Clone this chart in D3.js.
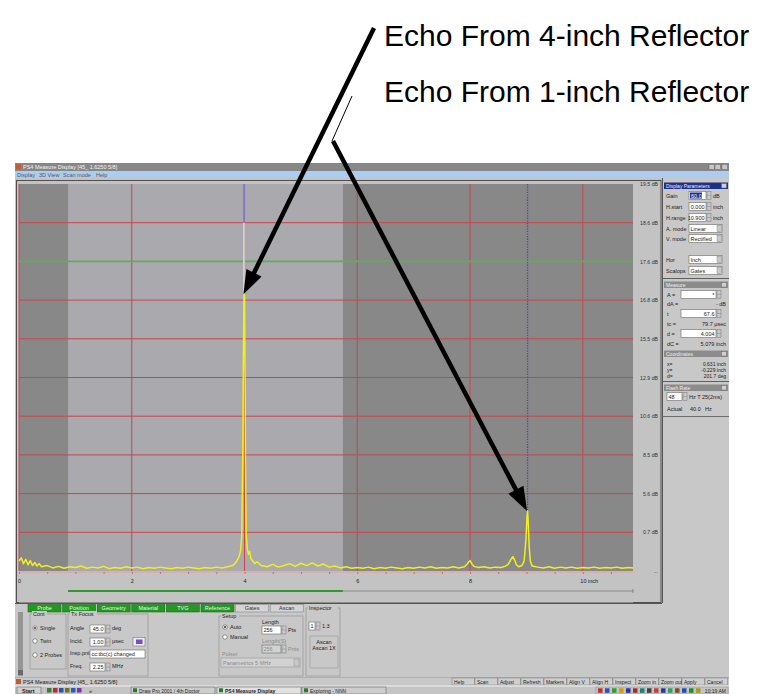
<!DOCTYPE html>
<html>
<head>
<meta charset="utf-8">
<style>
  body { margin: 0; background: #fff; }
  svg { display: block; font-family: "Liberation Sans", Arial, sans-serif; }
</style>
</head>
<body>
<div id="chart"></div>
<script src="https://cdn.jsdelivr.net/npm/d3@7/dist/d3.min.js"></script>
<script>

// =====================================
// DATA
// =====================================

const xTicks = [0, 2, 4, 6, 8, 10];
const xTickLabels = ["0", "2", "4", "6", "8", "10 inch"];

const ampTicks = [100, 90, 80, 70, 60, 50, 40, 30, 20, 10, 0];
const dbLabels = ["19.5 dB", "18.6 dB", "17.6 dB", "16.8 dB", "15.5 dB", "12.9 dB",
                  "10.6 dB", "8.5 dB", "5.6 dB", "0.7 dB", "..."];

const gridAmp = [10, 20, 30, 40, 50, 60, 70, 90];
const thresholdAmp = 80;

const xMax = 10.89;
const gateRange = [0.87, 5.745];

// [inch, amplitude %]
const trace = [
  [0.00,2.6],[0.04,3.4],[0.08,1.9],[0.12,3.0],[0.16,1.6],[0.20,2.7],[0.24,1.4],[0.28,2.2],
  [0.32,1.3],[0.36,1.9],[0.40,1.1],[0.5,1.4],[0.6,0.8],[0.7,1.2],[0.8,0.7],[0.9,1.1],
  [1.0,0.9],[1.1,1.3],[1.2,0.7],[1.3,1.0],[1.4,0.8],[1.5,1.2],[1.6,0.6],[1.7,0.9],
  [1.8,0.7],[1.9,1.1],[2.0,0.8],[2.1,1.0],[2.2,0.6],[2.3,0.9],[2.4,0.7],[2.5,1.0],
  [2.6,0.8],[2.7,0.6],[2.8,0.9],[2.9,0.7],[3.0,1.0],[3.1,0.8],[3.2,0.6],[3.3,0.9],
  [3.4,0.7],[3.5,1.0],[3.6,0.8],[3.7,1.1],[3.8,1.5],[3.85,2.3],[3.9,3.6],[3.93,5.2],
  [3.95,9.0],[3.97,31],[3.98,56],[3.99,72],[4.00,71],[4.01,49],[4.02,21],[4.03,9.5],
  [4.05,5.6],[4.07,4.3],[4.09,5.1],[4.11,3.3],[4.14,2.7],[4.18,1.9],[4.22,2.4],[4.30,1.4],
  [4.40,1.1],[4.50,1.7],[4.60,1.0],[4.70,1.4],[4.80,1.9],[4.90,1.2],[5.00,2.0],[5.10,1.4],
  [5.20,2.1],[5.30,1.3],[5.40,1.8],[5.50,1.0],[5.60,1.3],[5.70,0.8],[5.80,1.1],[5.90,0.7],
  [6.0,0.9],[6.1,0.7],[6.2,1.0],[6.3,0.6],[6.4,0.9],[6.5,0.7],[6.6,1.0],[6.7,0.8],
  [6.8,0.6],[6.9,0.9],[7.0,0.7],[7.1,1.0],[7.2,0.8],[7.3,1.1],[7.4,0.7],[7.5,0.9],
  [7.6,0.8],[7.7,1.1],[7.8,0.8],[7.9,1.1],[7.95,1.8],[7.98,2.4],[8.00,2.7],[8.03,1.9],
  [8.07,1.2],[8.15,0.9],[8.25,1.1],[8.35,0.8],[8.45,1.0],[8.55,0.9],[8.62,1.2],[8.68,1.8],
  [8.72,2.9],[8.76,3.7],[8.79,2.9],[8.82,1.7],[8.86,1.1],[8.92,1.4],[8.96,2.6],[8.99,8.0],
  [9.01,14],[9.02,15.5],[9.03,13],[9.05,6.0],[9.07,2.5],[9.10,1.3],[9.2,1.0],[9.3,0.8],
  [9.4,1.1],[9.5,0.7],[9.6,1.0],[9.7,0.8],[9.8,1.0],[9.9,0.7],[10.0,0.9],[10.1,0.8],
  [10.2,1.0],[10.3,0.7],[10.4,0.9],[10.5,0.8],[10.6,1.0],[10.7,0.7],[10.8,0.9],[10.89,0.8]
];

const echoLabels = ["Echo From 4-inch Reflector", "Echo From 1-inch Reflector"];
const echoInch = [3.99, 9.02];
const echoAmp = [72, 15.5];

const tabNames = ["Probe", "Position", "Geometry", "Material", "TVG", "Reference", "Gates", "Ascan"];
const buttonNames = ["Help", "Scan", "Adjust", "Refresh", "Markers", "Align V", "Align H",
                     "Inspect", "Zoom in", "Zoom out", "Apply", "Cancel"];

// =====================================
// DIMENSIONS
// =====================================

const width = 774;
const height = 694;

const plot = { left: 19, right: 633, top: 184, bottom: 571 };

const svg = d3.select("#chart")
  .append("svg")
  .attr("width", width)
  .attr("height", height);

svg.append("rect").attr("width", width).attr("height", height).attr("fill", "#fff");

// =====================================
// SCALES
// =====================================

const x = d3.scaleLinear().domain([0, xMax]).range([plot.left, plot.right]);
const y = d3.scaleLinear().domain([0, 100]).range([plot.bottom, plot.top]);

// =====================================
// SMALL UI HELPERS
// =====================================

const ui = svg.append("g");

function rect(g, rx, ry, w, h, fill, stroke, sw) {
  return g.append("rect").attr("x", rx).attr("y", ry).attr("width", w).attr("height", h)
    .attr("fill", fill || "none").attr("stroke", stroke || "none").attr("stroke-width", sw || 0.6);
}

function txt(g, tx, ty, s, o) {
  o = o || {};
  return g.append("text").attr("x", tx).attr("y", ty).text(s)
    .attr("font-size", o.size || 5.5)
    .attr("font-weight", o.bold ? "700" : "400")
    .attr("text-anchor", o.anchor || "start")
    .attr("fill", o.fill || "#222");
}

function hline(g, x1, x2, yy, c, sw) {
  g.append("line").attr("x1", x1).attr("x2", x2).attr("y1", yy).attr("y2", yy)
    .attr("stroke", c).attr("stroke-width", sw || 0.8);
}

function vline(g, xx, y1, y2, c, sw) {
  g.append("line").attr("x1", xx).attr("x2", xx).attr("y1", y1).attr("y2", y2)
    .attr("stroke", c).attr("stroke-width", sw || 0.8);
}

function spin(g, sx, sy, h) {
  rect(g, sx, sy, 4, h, "#c8c8c8", "#777", 0.5);
  hline(g, sx, sx + 4, sy + h / 2, "#777", 0.4);
}

function field(g, fx, fy, w, val, o) {
  o = o || {};
  rect(g, fx, fy, w, 8, o.fill || "#fff", "#6a6a6a", 0.6);
  if (val) txt(g, o.left ? fx + 1.5 : fx + w - 1.5, fy + 6, val, { anchor: o.left ? "start" : "end", fill: o.color });
}

function drop(g, fx, fy, w, val) {
  rect(g, fx, fy, w, 8, "#fff", "#6a6a6a", 0.6);
  txt(g, fx + 1.5, fy + 6, val);
  rect(g, fx + w - 5, fy + 0.8, 4.2, 6.4, "#c8c8c8", "#777", 0.4);
}

function radio(g, cx, cy, on) {
  g.append("circle").attr("cx", cx).attr("cy", cy).attr("r", 2.2)
    .attr("fill", "#fff").attr("stroke", "#555").attr("stroke-width", 0.6);
  if (on) g.append("circle").attr("cx", cx).attr("cy", cy).attr("r", 0.9).attr("fill", "#111");
}

function header(g, hy, s, fill) {
  rect(g, 664, hy, 64, 6.5, fill);
  txt(g, 666, hy + 5, s, { size: 5, fill: "#eee" });
  rect(g, 721.5, hy + 1, 5, 4.5, "#d0d0d0", "#555", 0.4);
}

function group(g, gx, gy, w, h, label) {
  rect(g, gx, gy, w, h, "none", "#8c8c8c", 0.6);
  rect(g, gx + 2, gy - 3, label.length * 3 + 3, 5, "#c8c8c8");
  txt(g, gx + 3, gy + 1.5, label);
}

// =====================================
// WINDOW FRAME
// =====================================

rect(ui, 15, 163, 714, 531, "#c8c8c8");

// title bar
rect(ui, 15, 163, 714, 8, "#878787");
rect(ui, 16, 164.3, 5, 5, "#c65a2a");
txt(ui, 23, 169.4, "PS4 Measure Display [45_ 1.6250 5/8]", { fill: "#f4f4f4" });
[709, 715, 722].forEach(bx => rect(ui, bx, 164.3, 5.5, 5.2, "#c8c8c8", "#555", 0.4));

// menu bar
rect(ui, 15, 171, 714, 7, "#abcdf0");
[["Display", 17], ["3D View", 39], ["Scan mode", 63], ["Help", 96]]
  .forEach(m => txt(ui, m[1], 176.6, m[0], { fill: "#556" }));

// chart panel
rect(ui, 15, 178, 647, 425, "#c3c3c3");
rect(ui, 16.5, 180.5, 644.5, 422, "none", "#505050", 1);

// =====================================
// PLOT BACKGROUND
// =====================================

const chart = svg.append("g");

rect(chart, x(0), y(100), x(xMax) - x(0), y(0) - y(100), "#888888");
rect(chart, x(gateRange[0]), y(100), x(gateRange[1]) - x(gateRange[0]), y(0) - y(100), "#a9a9ae");

// =====================================
// GRID
// =====================================

chart.selectAll(".vgrid")
  .data(xTicks)
  .enter()
  .append("line")
  .attr("x1", d => x(d)).attr("x2", d => x(d))
  .attr("y1", y(100)).attr("y2", y(0))
  .attr("stroke", "#c8464a").attr("stroke-width", 1);

chart.selectAll(".hgrid")
  .data(gridAmp)
  .enter()
  .append("line")
  .attr("x1", x(0)).attr("x2", x(xMax))
  .attr("y1", d => y(d)).attr("y2", d => y(d))
  .attr("stroke", "#c8464a").attr("stroke-width", 1);

chart.append("line")
  .attr("x1", x(0)).attr("x2", x(xMax))
  .attr("y1", y(thresholdAmp)).attr("y2", y(thresholdAmp))
  .attr("stroke", "#5cae5c").attr("stroke-width", 1.6);

// =====================================
// CURSORS
// =====================================

chart.append("line")
  .attr("x1", x(echoInch[0])).attr("x2", x(echoInch[0]))
  .attr("y1", y(100)).attr("y2", y(90))
  .attr("stroke", "#7f7ad8").attr("stroke-width", 1.8);

chart.append("line")
  .attr("x1", x(echoInch[0])).attr("x2", x(echoInch[0]))
  .attr("y1", y(90)).attr("y2", y(echoAmp[0]))
  .attr("stroke", "#d6d6d0").attr("stroke-width", 1.8);

chart.append("line")
  .attr("x1", x(echoInch[1])).attr("x2", x(echoInch[1]))
  .attr("y1", y(100)).attr("y2", y(echoAmp[1]))
  .attr("stroke", "#4a4aa8").attr("stroke-width", 1.3)
  .attr("stroke-dasharray", "1.3,1.3");

// =====================================
// TRACE
// =====================================

const line = d3.line()
  .x(d => x(d[0]))
  .y(d => y(d[1]));

chart.append("path")
  .datum(trace)
  .attr("d", line)
  .attr("fill", "none")
  .attr("stroke", "#f0f01e")
  .attr("stroke-width", 1.5)
  .attr("stroke-linejoin", "round");

// =====================================
// AXES
// =====================================

rect(chart, x(0), y(0) + 0.5, x(xMax) - x(0), 31, "#c3c3c3");
hline(chart, x(0), x(xMax), y(0) + 1, "#e0a0a0", 1);

const minorAxis = chart.append("g")
  .attr("transform", `translate(0,${y(0) + 1})`)
  .call(d3.axisBottom(x).tickValues(d3.range(0, xMax, 0.5)).tickSize(2).tickFormat(""));
minorAxis.select(".domain").remove();
minorAxis.selectAll("line").attr("stroke", "#d06a6a");

const xAxis = chart.append("g")
  .attr("transform", `translate(0,${y(0)})`)
  .call(d3.axisBottom(x).tickValues(xTicks).tickSize(0).tickPadding(8)
    .tickFormat((d, i) => xTickLabels[i]));
xAxis.select(".domain").remove();
xAxis.selectAll("text")
  .attr("font-size", 5.5)
  .attr("font-family", "Liberation Sans, Arial, sans-serif")
  .attr("fill", "#222");
xAxis.selectAll("text").filter((d, i) => i === xTicks.length - 1)
  .attr("text-anchor", "start").attr("dx", -3);

const dbAxis = chart.append("g")
  .attr("transform", "translate(658,0)")
  .call(d3.axisLeft(y).tickValues(ampTicks).tickSize(0).tickPadding(0)
    .tickFormat((d, i) => dbLabels[i]));
dbAxis.select(".domain").remove();
dbAxis.selectAll("text")
  .attr("font-size", 5.2)
  .attr("font-family", "Liberation Sans, Arial, sans-serif")
  .attr("fill", "#333");

// gate bar under the axis
chart.append("line")
  .attr("x1", x(gateRange[0])).attr("x2", x(gateRange[1]))
  .attr("y1", 591).attr("y2", 591)
  .attr("stroke", "#2e9a2e").attr("stroke-width", 2);
chart.append("line")
  .attr("x1", x(gateRange[1])).attr("x2", x(xMax))
  .attr("y1", 591).attr("y2", 591)
  .attr("stroke", "#8c8c8c").attr("stroke-width", 1);
vline(chart, x(xMax), 589, 593, "#777", 0.8);

// =====================================
// RIGHT PANEL
// =====================================

rect(ui, 662, 178, 67, 500, "#c8c8c8");
vline(ui, 662.5, 178, 603, "#555", 1);

header(ui, 182.5, "Display Parameters", "#1d2f8c");
[["Gain", "60.0", "dB", 196], ["H.start", "0.000", "inch", 207], ["H.range", "10.900", "inch", 218]]
  .forEach((r, i) => {
    txt(ui, 666, r[3] + 1.5, r[0]);
    field(ui, 689, r[3] - 4.5, 17, i === 0 ? "" : r[1]);
    if (i === 0) {
      rect(ui, 690, r[3] - 3.5, 12, 6, "#1d2f8c");
      txt(ui, 691, r[3] + 1.5, r[1], { fill: "#fff" });
    }
    spin(ui, 707, r[3] - 4.5, 8);
    txt(ui, 713, r[3] + 1.5, r[2]);
  });
[["A. mode", "Linear", 229], ["V. mode", "Rectified", 239], ["Hor", "Inch", 260], ["Scalops", "Gates", 271]]
  .forEach(r => {
    txt(ui, 666, r[2] + 1.5, r[0]);
    drop(ui, 689, r[2] - 4.5, 33, r[1]);
  });
hline(ui, 663, 729, 278.5, "#444", 0.8);

header(ui, 281.5, "Measure", "#8c8c8c");
[["A =", "*", 295], ["t", "67.6", 314], ["d =", "4.004", 334]].forEach(r => {
  txt(ui, 667, r[2] + 1.5, r[0]);
  field(ui, 681, r[2] - 4.5, 35, r[1]);
  spin(ui, 717, r[2] - 4.5, 8);
});
[["dA =", "- dB", 304], ["tc =", "79.7 µsec", 324], ["dC =", "5.079 inch", 344]].forEach(r => {
  txt(ui, 667, r[2] + 1.5, r[0]);
  txt(ui, 726, r[2] + 1.5, r[1], { anchor: "end" });
});

header(ui, 350.5, "Coordinates", "#8c8c8c");
[["x=", "0.631 inch", 364], ["y=", "-0.229 inch", 370], ["d=", "201.7 deg", 376]].forEach(r => {
  txt(ui, 667, r[2] + 1.5, r[0], { size: 5 });
  txt(ui, 726, r[2] + 1.5, r[1], { anchor: "end", size: 5 });
});
hline(ui, 663, 729, 381.5, "#444", 0.8);

header(ui, 384.5, "Flash Rate", "#8c8c8c");
field(ui, 667, 392.5, 15, "48", { left: true });
spin(ui, 683, 392.5, 8);
txt(ui, 689, 398.5, "Hz T 25(2ms)");
txt(ui, 667, 411, "Actual");
txt(ui, 690, 411, "40.0");
txt(ui, 705, 411, "Hz");
hline(ui, 663, 729, 416.5, "#555", 0.8);

// =====================================
// BOTTOM PANEL
// =====================================

hline(ui, 15, 662, 603.5, "#555", 1);

tabNames.forEach((n, i) => {
  const tx = 28 + i * 34.6;
  const green = i < 6;
  rect(ui, tx, 604.5, 33, 7.5, green ? "#229a22" : "#d4d4d4", green ? "#0e5e0e" : "#777", 0.5);
  txt(ui, tx + 16.5, 610.3, n, { anchor: "middle", fill: green ? "#e8f8e8" : "#333" });
});

rect(ui, 18, 612, 5, 64, "#959595");
rect(ui, 18, 670, 5, 5, "#6a6a6a");

group(ui, 30, 614, 36, 55, "Cont");
[["Single", 628, true], ["Twin", 641, false], ["2 Probes", 655, false]].forEach(r => {
  radio(ui, 35, r[1], r[2]);
  txt(ui, 40, r[1] + 2, r[0]);
});

group(ui, 68, 614, 80, 62, "Tx Focus");
txt(ui, 70, 630, "Angle");
field(ui, 90, 625, 15, "45.0");
spin(ui, 106, 625, 8);
txt(ui, 112, 630, "deg");
txt(ui, 70, 643, "Incid.");
field(ui, 90, 638, 15, "1.00");
spin(ui, 106, 638, 8);
txt(ui, 112, 643, "µsec");
rect(ui, 133, 637.5, 12, 8.5, "#ececf4", "#666", 0.5);
rect(ui, 136, 639.5, 6.5, 4.5, "#7a4cc4");
txt(ui, 70, 655, "Insp.pnt.");
field(ui, 90, 650, 55, "cc:tbc(c) changed", { left: true });
txt(ui, 70, 668, "Freq.");
field(ui, 90, 663, 15, "2.25");
spin(ui, 106, 663, 8);
txt(ui, 112, 668, "MHz");

group(ui, 219, 616, 84, 60, "Setup");
radio(ui, 225, 627, true);
txt(ui, 230, 629, "Auto");
radio(ui, 225, 637, false);
txt(ui, 230, 639, "Manual");
txt(ui, 262, 624, "Length");
field(ui, 262, 626, 19, "256", { left: true });
spin(ui, 282, 626, 8);
txt(ui, 288, 632, "Pts");
txt(ui, 262, 643, "Length(S)", { fill: "#8a8a8a" });
field(ui, 262, 645, 19, "256", { left: true, fill: "#d2d2d2", color: "#8a8a8a" });
spin(ui, 282, 645, 8);
txt(ui, 288, 651, "Pnts", { fill: "#8a8a8a" });
txt(ui, 222, 656, "Pulser", { fill: "#8a8a8a" });
rect(ui, 221, 658, 79, 9, "#d2d2d2", "#8a8a8a", 0.5);
txt(ui, 223, 664.5, "Panametrics 5 MHz", { fill: "#8a8a8a" });
rect(ui, 294, 659, 5, 7, "#c8c8c8", "#888", 0.4);

group(ui, 306, 608, 34, 68, "Inspector");
field(ui, 309, 622, 6, "1", { left: true });
spin(ui, 316, 622, 8);
txt(ui, 322, 628, "1.3");
rect(ui, 310, 636, 28, 32, "none", "#8c8c8c", 0.5);
txt(ui, 324, 644, "Ascan", { anchor: "middle" });
txt(ui, 324, 650, "Ascan 1X", { anchor: "middle" });

// =====================================
// STATUS BAR + TASKBAR
// =====================================

hline(ui, 15, 729, 677.5, "#9a9a9a", 0.6);
rect(ui, 16, 679, 5, 5, "#c65a2a");
txt(ui, 23, 683.8, "PS4 Measure Display [45_ 1.6250 5/8]");

buttonNames.forEach((n, i) => {
  const bx = 452 + i * 23;
  rect(ui, bx, 678, 22.5, 7, "#cfcfcf", "#777", 0.5);
  txt(ui, bx + 2, 683.5, n, { size: 5 });
});

rect(ui, 15, 685.5, 714, 8.5, "#c4c4c4");
hline(ui, 15, 729, 686, "#fff", 0.8);
rect(ui, 17, 687, 24, 7, "#d0d0d0", "#555", 0.5);
txt(ui, 22, 692.8, "Start", { bold: true, size: 5.5 });
["#3a7a3a", "#b03030", "#3050b0", "#707020", "#2060c0", "#8030a0"]
  .forEach((c, i) => rect(ui, 47 + i * 6, 688, 4.5, 4.5, c));
txt(ui, 89, 692.6, "»");
[["Draw Pro 2001 / 4th Doctor", 131, false], ["PS4 Measure Display", 217, true], ["Exploring - NNN", 302, false]]
  .forEach(b => {
    rect(ui, b[1], 687, 84, 7, b[2] ? "#e2e2e2" : "#cdcdcd", "#555", 0.5);
    rect(ui, b[1] + 2, 688.3, 4, 4, "#2a7a2a");
    txt(ui, b[1] + 8, 692.8, b[0], { bold: b[2], size: 5 });
  });
rect(ui, 596, 687, 132, 7, "#c4c4c4", "#888", 0.5);
["#c03030", "#3050c0", "#30a030", "#d0a000", "#3030a0", "#a03030", "#208080", "#404040",
 "#c04040", "#2040a0", "#30a060", "#805020", "#2050c0", "#209020", "#a0a020"]
  .forEach((c, i) => rect(ui, 598 + i * 7, 688.3, 4.5, 4.5, c));
txt(ui, 726, 692.8, "10:19 AM", { anchor: "end", size: 5 });

// =====================================
// ANNOTATIONS
// =====================================

const notes = svg.append("g");

function arrow(x1, y1, x2, y2) {
  const a = Math.atan2(y2 - y1, x2 - x1);
  const headLen = 24;
  const halfW = 8.5;
  const bx = x2 - headLen * Math.cos(a);
  const by = y2 - headLen * Math.sin(a);
  notes.append("line")
    .attr("x1", x1).attr("y1", y1)
    .attr("x2", bx + 3 * Math.cos(a)).attr("y2", by + 3 * Math.sin(a))
    .attr("stroke", "#000").attr("stroke-width", 4.5);
  notes.append("polygon")
    .attr("points", [
      [x2, y2],
      [bx + halfW * Math.sin(a), by - halfW * Math.cos(a)],
      [bx - halfW * Math.sin(a), by + halfW * Math.cos(a)]
    ].map(p => p.join(",")).join(" "))
    .attr("fill", "#000");
}

arrow(374, 28, x(echoInch[0]) - 0.5, y(echoAmp[0]) + 2);

notes.append("line")
  .attr("x1", 352).attr("y1", 96).attr("x2", 332).attr("y2", 141)
  .attr("stroke", "#000").attr("stroke-width", 1);
arrow(333, 141, x(echoInch[1]) - 0.5, y(echoAmp[1]));

echoLabels.forEach((s, i) => {
  notes.append("text")
    .attr("x", 384)
    .attr("y", 46 + i * 56)
    .attr("font-size", 30)
    .attr("font-family", "Liberation Sans, Arial, sans-serif")
    .attr("fill", "#000")
    .text(s);
});

</script>
</body>
</html>
